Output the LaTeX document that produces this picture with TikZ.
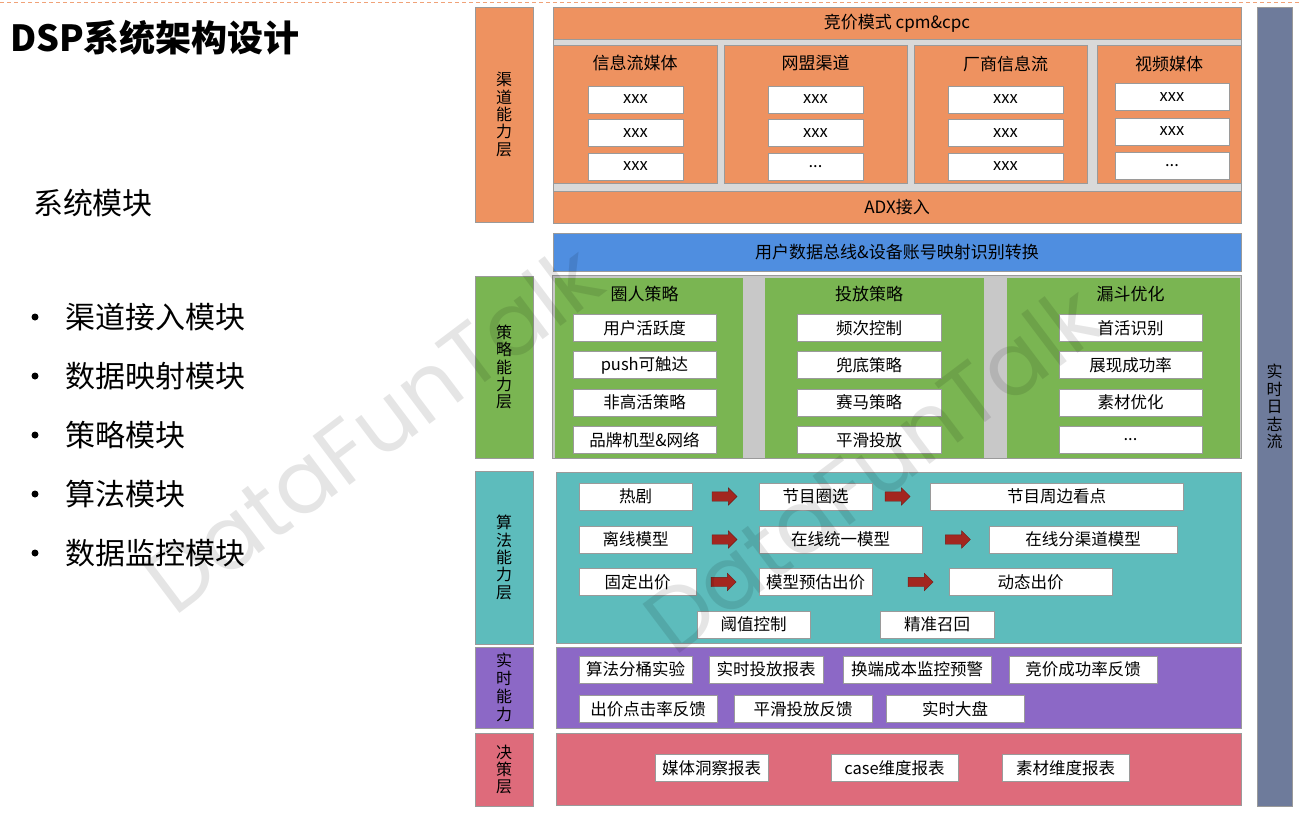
\documentclass[tikz,border=0pt]{standalone}
\usepackage{fontspec}
\setmainfont{Noto Sans CJK SC}
\newfontfamily\wmfont{Poppins}
\usetikzlibrary{positioning, calc, shapes.arrows}

\definecolor{chorange}{HTML}{EE9260}
\definecolor{sepgray}{HTML}{D9D9D9}
\definecolor{stsep}{HTML}{C8C8C8}
\definecolor{busblue}{HTML}{4F8EE0}
\definecolor{stgreen}{HTML}{7AB552}
\definecolor{alteal}{HTML}{5DBCBC}
\definecolor{rtpurple}{HTML}{8C68C6}
\definecolor{dcpink}{HTML}{DE6B7B}
\definecolor{logslate}{HTML}{6E7B9B}
\definecolor{arrred}{HTML}{A3261F}
\definecolor{edgegray}{HTML}{9A9A9A}

\begin{document}
\begin{tikzpicture}[x=1pt, y=-1pt, on grid,
    every node/.style={inner sep=0pt, outer sep=0pt},
    sz/.style 2 args={minimum width=#1pt, minimum height=#2pt},
    lab/.style={draw=edgegray, line width=0.8pt, align=center, font=\fontsize{16}{17.4}\selectfont},
    lay/.style={draw=edgegray, line width=0.8pt},
    wbox/.style={draw=edgegray, fill=white, line width=0.8pt, minimum width=#1, minimum height=27pt, font=\fontsize{16.5}{18}\selectfont},
    wbox/.default=113pt,
    head/.style={font=\fontsize{17}{18}\selectfont},
    arr/.style={single arrow, fill=arrred, draw=arrred!70!black, line width=0.4pt, inner sep=4.5pt, minimum height=25pt, single arrow head extend=4pt},
    bullet/.style={anchor=west, font=\fontsize{30}{32}\selectfont}]
  \useasboundingbox (0,0) rectangle (1302,812);

  % top rule
  \coordinate (tl) at (0,2);
  \coordinate (tr) at (1302,2);
  \draw[chorange!85, line width=1pt, dash pattern=on 4pt off 3pt] (tl) -- (tr);

  % left column
  \node[anchor=west, font=\fontsize{36}{40}\selectfont\bfseries] (title) at (10,38) {DSP系统架构设计};
  \node[anchor=west, font=\fontsize{30}{32}\selectfont] (mods) at (33,203) {系统模块};
  \foreach \t [count=\i] in {渠道接入模块, 数据映射模块, 策略模块, 算法模块, 数据监控模块} {
    \node[bullet] (b\i) at (65,258+59*\i) {\t};
    \node[circle, fill, minimum size=7pt] (d\i) [left=26.5pt of b\i.west] {};
  }

  % channel layer
  \node[lab, fill=chorange, sz={58}{215}] (lab_ch) at (504,114.5) {渠\\道\\能\\力\\层};
  \node[lay, fill=sepgray, sz={688}{216}] (ch) at (897,115) {};
  \node[lay, fill=chorange, sz={688}{32}, head] (bid) at (897,23) {竞价模式 cpm\&cpc};
  \node[lay, fill=chorange, sz={688}{32}, head] (adx) at (897,207) {ADX接入};
  \node[lay, fill=chorange, sz={164}{138}] (m1) at (635,114) {};
  \node[lay, fill=chorange, sz={183}{138}] (m2) at (815.5,114) {};
  \node[lay, fill=chorange, sz={173}{138}] (m3) at (1000.5,114) {};
  \node[lay, fill=chorange, sz={144}{138}] (m4) at (1169,114) {};
  \node[head] (m1t) at (635,63) {信息流媒体};
  \node[head] (m2t) at (815.5,63) {网盟渠道};
  \node[head] (m3t) at (1005.5,64) {厂商信息流};
  \node[head] (m4t) at (1169,64) {视频媒体};
  \node[wbox=95pt] (m1a) at (635.5,99.5) {xxx};
  \node[wbox=95pt] (m1b) [below=33.5pt of m1a] {xxx};
  \node[wbox=95pt] (m1c) [below=33.5pt of m1b] {xxx};
  \node[wbox=95pt] (m2a) at (815.5,99.5) {xxx};
  \node[wbox=95pt] (m2b) [below=33.5pt of m2a] {xxx};
  \node[wbox=95pt] (m2c) [below=33.5pt of m2b] {...};
  \node[wbox=115pt] (m3a) at (1005.5,99.5) {xxx};
  \node[wbox=115pt] (m3b) [below=33.5pt of m3a] {xxx};
  \node[wbox=115pt] (m3c) [below=33.5pt of m3b] {xxx};
  \node[wbox=114pt] (m4a) at (1172,97) {xxx};
  \node[wbox=114pt] (m4b) [below=34.5pt of m4a] {xxx};
  \node[wbox=114pt] (m4c) [below=34.5pt of m4b] {...};

  % data bus
  \node[lay, fill=busblue, sz={688}{38}, head] (bus) at (897,252) {用户数据总线\&设备账号映射识别转换};

  % strategy layer
  \node[lab, fill=stgreen, sz={58}{182}] (lab_st) at (504,367) {策\\略\\能\\力\\层};
  \node[lay, fill=stsep, sz={689}{183}] (st) at (896.5,366.5) {};
  \node[fill=stgreen, sz={188}{180}] (s1) at (649,368) {};
  \node[fill=stgreen, sz={219}{180}] (s2) at (874.5,368) {};
  \node[fill=stgreen, sz={233}{180}] (s3) at (1123.5,368) {};
  \node[head] (s1t) at (644.5,294) {圈人策略};
  \node[head] (s2t) at (869,294) {投放策略};
  \node[head] (s3t) at (1130.5,294) {漏斗优化};
  \node[wbox=143pt] (s1a) at (644.5,328) {用户活跃度};
  \node[wbox=143pt] (s1b) [below=37.3pt of s1a] {push可触达};
  \node[wbox=143pt] (s1c) [below=37.3pt of s1b] {非高活策略};
  \node[wbox=143pt] (s1d) [below=37.3pt of s1c] {品牌机型\&网络};
  \node[wbox=144pt] (s2a) at (869,328) {频次控制};
  \node[wbox=144pt] (s2b) [below=37.3pt of s2a] {兜底策略};
  \node[wbox=144pt] (s2c) [below=37.3pt of s2b] {赛马策略};
  \node[wbox=144pt] (s2d) [below=37.3pt of s2c] {平滑投放};
  \node[wbox=143pt] (s3a) at (1130.5,328) {首活识别};
  \node[wbox=143pt] (s3b) [below=37.3pt of s3a] {展现成功率};
  \node[wbox=143pt] (s3c) [below=37.3pt of s3b] {素材优化};
  \node[wbox=143pt] (s3d) [below=37.3pt of s3c] {...};

  % algorithm layer
  \node[lab, fill=alteal, sz={58}{173}] (lab_al) at (504,557.5) {算\\法\\能\\力\\层};
  \node[lay, fill=alteal, sz={685}{171}] (al) at (898.5,557.5) {};
  \node[wbox] (hot) at (635.5,496.5) {热剧};
  \node[wbox] (prog) at (815.5,496.5) {节目圈选};
  \node[wbox=253pt] (peri) at (1056.5,496.5) {节目周边看点};
  \node[wbox] (off) at (635.5,539.5) {离线模型};
  \node[wbox=163pt] (uni) at (840.5,539.5) {在线统一模型};
  \node[wbox=188pt] (chn) at (1083,539.5) {在线分渠道模型};
  \node[wbox=117pt] (fix) at (637.5,582) {固定出价};
  \node[wbox] (pred) at (815.5,582) {模型预估出价};
  \node[wbox=163pt] (dyn) at (1030.5,582) {动态出价};
  \node[wbox] (thr) at (753.5,624.5) {阈值控制};
  \node[wbox=114pt] (rec) at (937,624.5) {精准召回};
  \node[arr] (a1) at ($(hot.east)!0.45!(prog.west)$) {};
  \node[arr] (a2) at ($(prog.east)!0.4!(peri.west)$) {};
  \node[arr] (a3) at ($(off.east)!0.45!(uni.west)$) {};
  \node[arr] (a4) at ($(uni.east)!0.5!(chn.west)$) {};
  \node[arr] (a5) at ($(fix.east)!0.4!(pred.west)$) {};
  \node[arr] (a6) at ($(pred.east)!0.6!(dyn.west)$) {};

  % realtime layer
  \node[lab, fill=rtpurple, sz={58}{81}, font=\fontsize{16}{18}\selectfont] (lab_rt) at (504,687.5) {实\\时\\能\\力};
  \node[lay, fill=rtpurple, sz={685}{81}] (rt) at (898.5,687.5) {};
  \node[wbox] (ab) at (635.5,669.5) {算法分桶实验};
  \node[wbox=114pt] (rep) at (766,669.5) {实时投放报表};
  \node[wbox=148pt] (cost) at (917,669.5) {换端成本监控预警};
  \node[wbox=148pt] (win) at (1083,669.5) {竞价成功率反馈};
  \node[wbox=138pt] (ctr) at (648,709) {出价点击率反馈};
  \node[wbox=138pt] (smo) at (803,709) {平滑投放反馈};
  \node[wbox=138pt] (dash) at (955,709) {实时大盘};

  % decision layer
  \node[lab, fill=dcpink, sz={58}{73}] (lab_dc) at (504,769.5) {决\\策\\层};
  \node[lay, fill=dcpink, sz={685}{72}] (dc) at (898.5,769) {};
  \node[wbox] (med) at (711.5,768) {媒体洞察报表};
  \node[wbox=127pt] (cas) at (894.5,768) {case维度报表};
  \node[wbox=127pt] (mat) at (1065.5,768) {素材维度报表};

  % log stream
  \node[lab, fill=logslate, sz={35}{799}] (log) at (1274.5,406.5) {实\\时\\日\\志\\流};

  % watermark
  \node[rotate=37, text=black, opacity=0.1, font=\wmfont\fontsize{88}{90}\selectfont] (wm1) at (372,428) {DataFunTalk};
  \node[rotate=37, text=black, opacity=0.1, font=\wmfont\fontsize{88}{90}\selectfont] (wm2) at (872,468) {DataFunTalk};
\end{tikzpicture}
\end{document}
